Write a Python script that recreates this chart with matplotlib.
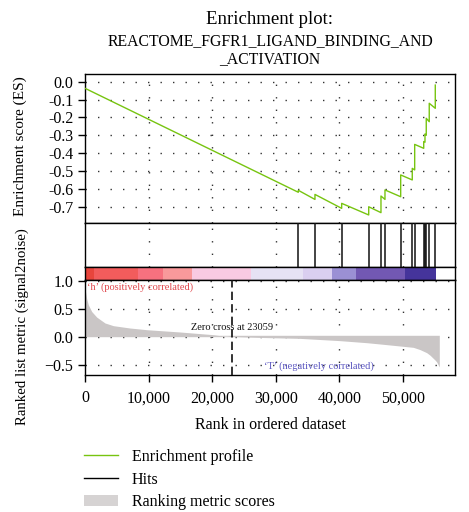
import matplotlib
matplotlib.use("Agg")
import matplotlib.pyplot as plt
from matplotlib.lines import Line2D
from matplotlib.patches import Patch
from matplotlib.ticker import FuncFormatter

plt.rcParams['font.family'] = ['Liberation Serif', 'DejaVu Serif']
plt.rcParams['axes.unicode_minus'] = True

# ---------------- data ----------------
title_line1 = "Enrichment plot:"
title_line2 = "REACTOME_FGFR1_LIGAND_BINDING_AND"
title_line3 = "_ACTIVATION"

es_start = -0.037
hit_ranks = [33540, 36160, 40360, 44610, 46540, 47170, 49640, 51460, 51840,
             53260, 53460, 53660, 54130, 55080]
es_pre = [-0.619, -0.659, -0.709, -0.746, -0.733, -0.659, -0.644, -0.550, -0.494,
          -0.373, -0.339, -0.300, -0.224, -0.149]
es_post = [-0.608, -0.631, -0.681, -0.700, -0.640, -0.606, -0.522, -0.485, -0.351,
           -0.335, -0.293, -0.205, -0.121, -0.019]

metric_rank = [0, 60, 260, 520, 1050, 1840, 3140, 4450, 7075, 9700, 14940, 20170,
               23059, 27000, 33800, 40000, 44290, 46380, 49530, 51620, 52670,
               53720, 54250, 55030, 55300, 55710]
metric_val = [0.97, 0.82, 0.68, 0.57, 0.45, 0.35, 0.245, 0.197, 0.155, 0.125, 0.084,
              0.036, 0.0, -0.012, -0.03, -0.07, -0.107, -0.13, -0.166, -0.19, -0.23,
              -0.285, -0.33, -0.416, -0.45, -0.54]

zero_cross = 23059

band_edges = [0, 1415, 8385, 12310, 16870, 26100, 34330, 38880, 42610, 50310, 55190]
band_colors = ['#e8453c', '#f25c5c', '#f7717f', '#f9999b', '#f9cae2', '#e6e2f4',
               '#dacff0', '#9b90d4', '#7258b3', '#45349b']

es_ticks = [0.0, -0.1, -0.2, -0.3, -0.4, -0.5, -0.6, -0.7]
metric_ticks = [1.0, 0.5, 0.0, -0.5]
x_ticks = [0, 10000, 20000, 30000, 40000, 50000]

legend_labels = ["Enrichment profile", "Hits", "Ranking metric scores"]

# ---------------- layout ----------------
W, H = 469, 512
fig = plt.figure(figsize=(W / 100, H / 100), dpi=100)

def axes_px(x0, y0, x1, y1):
    return fig.add_axes([x0 / W, 1 - y1 / H, (x1 - x0) / W, (y1 - y0) / H])

ax_es = axes_px(85, 74, 455, 223)
ax_hit = axes_px(85, 223, 455, 267)
ax_bar = axes_px(85, 267, 455, 280)
ax_m = axes_px(85, 280, 455, 375)

XMAX = 58180
green = '#77c410'
dot_style = dict(color='#333333', linestyle=(0, (1, 8)), linewidth=1.0)
TICK_FS = 11.5

for ax in (ax_es, ax_hit, ax_bar, ax_m):
    ax.set_xlim(0, XMAX)
    for s in ax.spines.values():
        s.set_linewidth(1.0)
        s.set_color('black')

# ---- enrichment score ----
xs = [0]
ys = [es_start]
for r, a, b in zip(hit_ranks, es_pre, es_post):
    xs += [r, r]
    ys += [a, b]
ax_es.set_ylim(-0.791, 0.043)
ax_es.set_yticks(es_ticks)
ax_es.set_yticklabels([f"{t:.1f}" if t != 0 else "0.0" for t in es_ticks])
ax_es.set_xticks(x_ticks)
for t in x_ticks[1:]:
    ax_es.axvline(t, **dot_style, zorder=0)
for t in es_ticks:
    ax_es.axhline(t, **dot_style, zorder=0)
ax_es.plot(xs, ys, color=green, linewidth=1.0, zorder=3)
ax_es.tick_params(axis='x', bottom=False, labelbottom=False)
ax_es.tick_params(axis='y', direction='out', length=5, width=1.0, pad=3.5,
                  labelsize=TICK_FS)

# ---- hits ----
ax_hit.set_ylim(0, 1)
for t in x_ticks[1:]:
    ax_hit.axvline(t, **dot_style, zorder=0)
ax_hit.vlines(hit_ranks, 0, 1, color='#111111', linewidth=1.1, zorder=3)
ax_hit.set_xticks([])
ax_hit.set_yticks([])

# ---- colour band ----
ax_bar.set_ylim(0, 1)
lefts = band_edges[:-1]
widths = [b - a for a, b in zip(band_edges[:-1], band_edges[1:])]
ax_bar.barh([0.5] * len(lefts), widths, left=lefts, height=1.0, color=band_colors,
            edgecolor='none')
ax_bar.set_xticks([])
ax_bar.set_yticks([])

# ---- ranked list metric ----
ax_m.set_ylim(-0.684, 1.0125)
ax_m.set_yticks(metric_ticks)
ax_m.set_yticklabels(["1.0", "0.5", "0.0", "\u22120.5"])
ax_m.set_xticks(x_ticks)
ax_m.xaxis.set_major_formatter(FuncFormatter(lambda v, p: f"{int(v):,}"))
for t in x_ticks[1:]:
    ax_m.axvline(t, **dot_style, zorder=0)
for t in metric_ticks:
    ax_m.axhline(t, **dot_style, zorder=0)
pos = [v >= 0 for v in metric_val]
neg = [v <= 0 for v in metric_val]
ax_m.fill_between(metric_rank, metric_val, 0, where=pos, interpolate=True,
                  color='#cac6c6', linewidth=0, zorder=2)
ax_m.fill_between(metric_rank, metric_val, 0.025, where=neg, interpolate=True,
                  color='#cac6c6', linewidth=0, zorder=2)
ax_m.axvline(zero_cross, color='#111111', linewidth=1.2, linestyle=(0, (5, 2.5)), zorder=3)
ax_m.text(zero_cross, 0.16, f"Zero cross at {zero_cross}", ha='center', va='center',
          fontsize=7.5, color='#111111', zorder=4)
ax_m.text(300, 0.88, "\u2018h\u2019 (positively correlated)", ha='left', va='center',
          fontsize=7.5, color='#e0474c', zorder=4)
ax_m.text(28200, -0.52, "\u2018T\u2019 (negatively correlated)", ha='left', va='center',
          fontsize=7.5, color='#5a55c0', zorder=4)
ax_m.tick_params(axis='both', direction='out', length=5, width=1.0, pad=3.5,
                 labelsize=TICK_FS)
ax_m.tick_params(axis='x', pad=6)
ax_m.set_xlabel("Rank in ordered dataset", fontsize=11.5, labelpad=8)

# ---- labels and title ----
fig.text(20 / W, 1 - 146 / H, "Enrichment score (ES)", rotation=90, ha='center',
         va='center', fontsize=11)
fig.text(22 / W, 1 - 327 / H, "Ranked list metric (signal2noise)", rotation=90,
         ha='center', va='center', fontsize=10.7)
fig.text(270 / W, 1 - 20 / H, title_line1, ha='center', va='center', fontsize=13.5)
fig.text(270 / W, 1 - 41 / H, title_line2, ha='center', va='center', fontsize=11.3)
fig.text(270 / W, 1 - 59.5 / H, title_line3, ha='center', va='center', fontsize=11.3)

# ---- legend ----
handles = [Line2D([], [], color=green, linewidth=1.0),
           Line2D([], [], color='black', linewidth=1.0),
           Patch(facecolor='#d6d3d3', edgecolor='none')]
fig.legend(handles, legend_labels, loc='upper left',
           bbox_to_anchor=(84 / W, 1 - 449 / H), frameon=False, fontsize=11.5,
           handlelength=2.1, handletextpad=0.9, labelspacing=0.42,
           borderpad=0, borderaxespad=0)

fig.savefig("out.png", dpi=100)
